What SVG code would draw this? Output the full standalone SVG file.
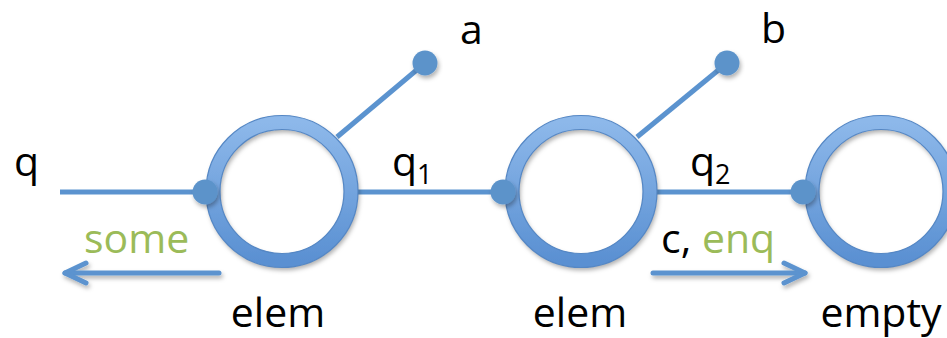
<svg xmlns="http://www.w3.org/2000/svg" width="947" height="338" viewBox="0 0 947 338">
  <style>
    .lbl { font-family: "Open Sans", "Liberation Sans", sans-serif; font-size: 41px; fill: #000; }
    .sub { font-size: 27px; }
    .grn { fill: #9BBB59; }
    .wire { stroke: #5B93CF; stroke-width: 5; fill: none; }
    .arr { stroke: #5B93CF; stroke-width: 5; fill: none; stroke-linecap: round; }
    .ring { fill: none; stroke: url(#rg); stroke-width: 14; filter: url(#sh); }
    .edge { fill: none; stroke: #5587C4; stroke-width: 1.2; }
    .dot { fill: #5B93CA; filter: url(#sh); }
  </style>
  <defs>
    <linearGradient id="rg" x1="0" y1="0" x2="0" y2="1">
      <stop offset="0" stop-color="#8DB8EA"/>
      <stop offset="1" stop-color="#5A90D2"/>
    </linearGradient>
    <filter id="sh" x="-20%" y="-20%" width="140%" height="150%">
      <feDropShadow dx="1.5" dy="3" stdDeviation="2" flood-color="#000" flood-opacity="0.3"/>
    </filter>
    <filter id="shu" filterUnits="userSpaceOnUse" x="0" y="0" width="947" height="338">
      <feDropShadow dx="1.5" dy="3" stdDeviation="2" flood-color="#000" flood-opacity="0.3"/>
    </filter>
    <marker id="ah" markerWidth="10" markerHeight="10" refX="7" refY="5" orient="auto" markerUnits="userSpaceOnUse" viewBox="0 0 10 10" overflow="visible">
      <path d="M -14 -5 L 7 5 L -14 15" fill="none" stroke="#5B93CF" stroke-width="5" stroke-linecap="round" stroke-linejoin="round"/>
    </marker>
  </defs>

  <g id="connectors">
    <line class="wire" x1="60" y1="192" x2="205" y2="192"/>
    <line class="wire" x1="356" y1="192" x2="503" y2="192"/>
    <line class="wire" x1="655" y1="192" x2="803" y2="192"/>
    <line class="wire" x1="337" y1="137" x2="425" y2="63"/>
    <line class="wire" x1="637" y1="137" x2="727" y2="63"/>
    <g filter="url(#shu)">
      <line class="arr" x1="219" y1="273" x2="65" y2="273" marker-end="url(#ah)"/>
      <line class="arr" x1="653" y1="273" x2="805" y2="273" marker-end="url(#ah)"/>
    </g>
  </g>

  <g id="node-elem1">
    <circle class="ring" cx="282" cy="191.5" r="69"/>
    <circle class="edge" cx="282" cy="191.5" r="76"/>
    <circle class="edge" cx="282" cy="191.5" r="62"/>
    <circle class="dot" cx="205" cy="192" r="12.5"/>
    <text class="lbl" x="278" y="327" text-anchor="middle">elem</text>
  </g>
  <g id="node-elem2">
    <circle class="ring" cx="581" cy="191.5" r="69"/>
    <circle class="edge" cx="581" cy="191.5" r="76"/>
    <circle class="edge" cx="581" cy="191.5" r="62"/>
    <circle class="dot" cx="503" cy="192" r="12.5"/>
    <text class="lbl" x="580" y="327" text-anchor="middle">elem</text>
  </g>
  <g id="node-empty">
    <circle class="ring" cx="881" cy="191.5" r="69"/>
    <circle class="edge" cx="881" cy="191.5" r="76"/>
    <circle class="edge" cx="881" cy="191.5" r="62"/>
    <circle class="dot" cx="803" cy="192" r="12.5"/>
    <text class="lbl" x="881" y="327" text-anchor="middle">empty</text>
  </g>
  <g id="node-a">
    <circle class="dot" cx="425" cy="63" r="12.5"/>
    <text class="lbl" x="460" y="44">a</text>
  </g>
  <g id="node-b">
    <circle class="dot" cx="727" cy="63" r="12.5"/>
    <text class="lbl" x="761" y="43">b</text>
  </g>

  <g id="labels">
    <text class="lbl" x="14" y="176">q</text>
    <text class="lbl" x="392" y="176">q<tspan class="sub" dy="8">1</tspan></text>
    <text class="lbl" x="690" y="176">q<tspan class="sub" dy="8">2</tspan></text>
    <text class="lbl grn" x="84" y="253">some</text>
    <text class="lbl" x="661" y="253">c, <tspan class="grn">enq</tspan></text>
  </g>
</svg>
